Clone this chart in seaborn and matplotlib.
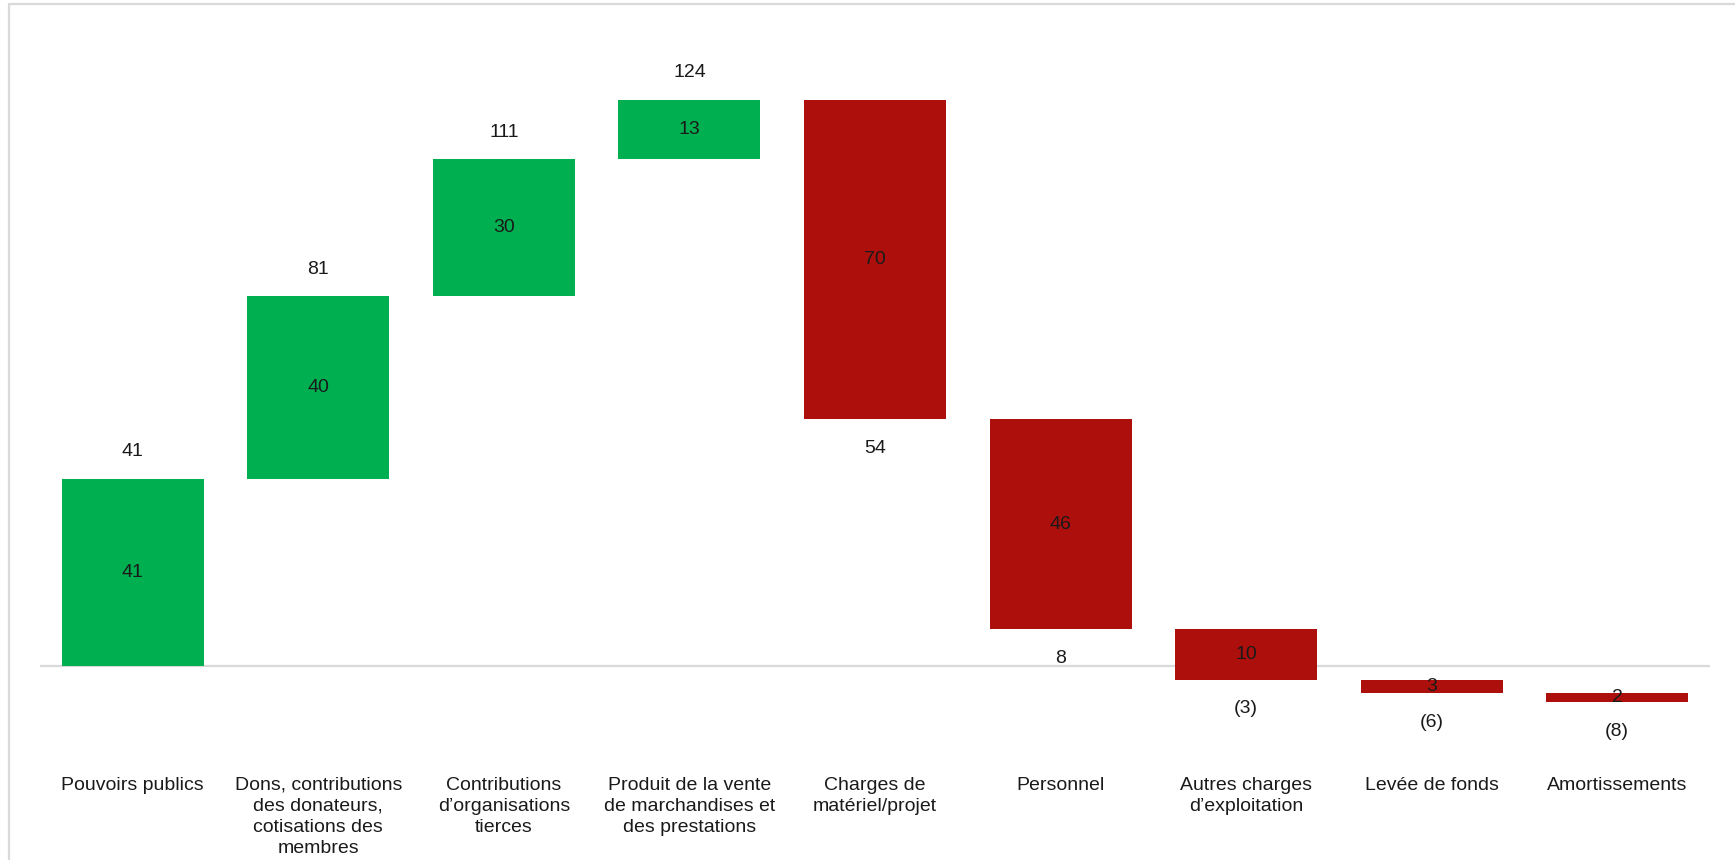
import matplotlib
matplotlib.use("Agg")
import matplotlib.pyplot as plt
from matplotlib.lines import Line2D
import seaborn as sns
import pandas as pd

# ── Data ────────────────────────────────────────────────
categories = [
    "Pouvoirs publics",
    "Dons, contributions\ndes donateurs,\ncotisations des\nmembres",
    "Contributions\nd\u2019organisations\ntierces",
    "Produit de la vente\nde marchandises et\ndes prestations",
    "Charges de\nmat\u00e9riel/projet",
    "Personnel",
    "Autres charges\nd\u2019exploitation",
    "Lev\u00e9e de fonds",
    "Amortissements",
]
step_labels = [41, 40, 30, 13, 70, 46, 10, 3, 2]
totals = [41, 81, 111, 124, 54, 8, -3, -6, -8]
is_income = [True, True, True, True, False, False, False, False, False]

GREEN = "#00B050"
RED = "#AD100C"
TEXT = "#1a1a1a"

starts = [0] + totals[:-1]
df = pd.DataFrame({
    "Category": categories,
    "Height": [t - s for s, t in zip(starts, totals)],
    "Start": starts,
    "Total": totals,
    "Step": step_labels,
    "Income": is_income,
})

sns.set_theme(style="white")
plt.rcParams["font.family"] = ["Liberation Sans", "DejaVu Sans"]

fig = plt.figure(figsize=(17.35, 8.6), dpi=100)
ax = fig.add_axes([40 / 1735, 100 / 860, 1670 / 1735, 740 / 860])

sns.barplot(data=df, x="Category", y="Height", bottom=df["Start"].values,
            color=GREEN, width=0.765, ax=ax, zorder=3)
for patch, inc in zip(ax.patches, df["Income"]):
    patch.set_facecolor(GREEN if inc else RED)
    patch.set_edgecolor("none")

ax.axhline(0, color="#d9d9d9", linewidth=1.6, zorder=2)
ax.set_xlim(-0.5, 8.5)
ax.set_ylim(-20.6, 141.5)

# step values inside bars, running totals above/below
for i, row in df.iterrows():
    mid = row["Start"] + row["Height"] / 2
    ax.text(i, mid, f"{row['Step']}", ha="center", va="center",
            fontsize=14, color=TEXT, zorder=4)
    tot = row["Total"]
    txt = f"{tot}" if tot >= 0 else f"({-tot})"
    off = 27 if row["Income"] else -29
    ax.annotate(txt, (i, tot), xytext=(0, off), textcoords="offset pixels",
                ha="center", va="center", fontsize=14, color=TEXT)

ax.set_xlabel("")
ax.set_ylabel("")
ax.set_yticks([])
ax.set_xticks(range(len(categories)))
ax.set_xticklabels(categories, fontsize=14, color=TEXT, linespacing=1.32)
ax.tick_params(axis="x", length=0, pad=12)
for s in ax.spines.values():
    s.set_visible(False)

# outer frame (chart border)
fig.add_artist(Line2D([9 / 1735, 9 / 1735], [0, 1 - 4 / 860],
                      transform=fig.transFigure, color="#d9d9d9", linewidth=1.6))
fig.add_artist(Line2D([9 / 1735, 1], [1 - 4 / 860, 1 - 4 / 860],
                      transform=fig.transFigure, color="#d9d9d9", linewidth=1.6))

plt.savefig("out.png", dpi=100)
plt.close()
